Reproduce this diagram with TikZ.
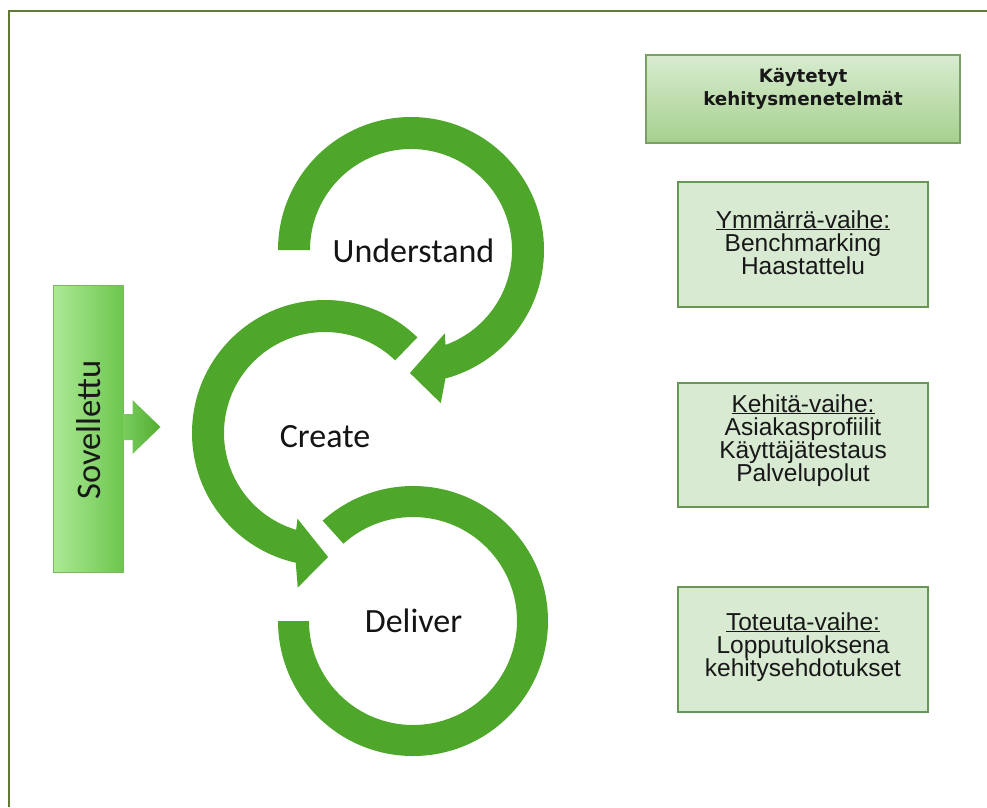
\documentclass[tikz,border=0pt]{standalone}
\usepackage{fontspec}
\setmainfont{Liberation Sans}
\newfontfamily\labelfont{Carlito}
\newfontfamily\headfont{DejaVu Sans}
\begin{document}
\definecolor{arcgreen}{RGB}{78,166,42}
\definecolor{frameolive}{RGB}{96,122,52}
\definecolor{boxfill}{RGB}{217,234,211}
\definecolor{boxline}{RGB}{104,150,84}
\definecolor{headtop}{RGB}{216,236,208}
\definecolor{headbot}{RGB}{166,208,142}
\definecolor{headline}{RGB}{122,160,102}
\definecolor{sovleft}{RGB}{172,234,150}
\definecolor{sovright}{RGB}{108,198,78}
\definecolor{sovline}{RGB}{118,186,92}
\definecolor{inktext}{RGB}{24,24,24}
\begin{tikzpicture}[x=1pt,y=1pt,
  band/.style={fill=arcgreen},
  phase/.style={inner sep=0pt, anchor=base, text=black!92, font=\labelfont\fontsize{34}{34}\selectfont},
  stagebox/.style={draw=boxline, line width=2.4pt, fill=boxfill, minimum width=250pt, inner sep=0pt},
  boxline1/.style={inner sep=0pt, anchor=base, text=inktext, font=\fontsize{24.5}{23}\selectfont},
  headtext/.style={inner sep=0pt, anchor=base, text=inktext, font=\headfont\bfseries\fontsize{18.3}{18}\selectfont},
]
\path[use as bounding box] (0,0) rectangle (987,-807);

% frame lines along the top and left edges
\coordinate (ftl) at (9,-11);
\coordinate (ftr) at (987,-11);
\coordinate (fbl) at (9,-807);
\draw[frameolive, line width=2.4pt] (ftr) -- (ftl) -- (fbl);

% circle centres
\coordinate (cu) at (411,-250);
\coordinate (cc) at (325,-433);
\coordinate (cd) at (413,-621);

% Understand: clockwise arc ending in an arrowhead
\begin{scope}[shift={(cu)}]
  \fill[band] (180:133) arc[start angle=180, end angle=-75, radius=133pt]
    -- (-79:156) -- (-90.5:123) -- (-68:90) -- (-70:101)
    arc[start angle=-70, end angle=180, radius=101pt] -- cycle;
\end{scope}

% Create: counter-clockwise arc ending in an arrowhead
\begin{scope}[shift={(cc)}]
  \fill[band] (46:133) arc[start angle=46, end angle=257.3, radius=133pt]
    -- (260:157) -- (271.4:124) -- (252.2:90) -- (253.4:101)
    arc[start angle=253.4, end angle=46, radius=101pt] -- cycle;
\end{scope}

% Deliver: open ring
\begin{scope}[shift={(cd)}]
  \fill[band] (180:135) arc[start angle=180, end angle=492, radius=135pt]
    -- (492:104) arc[start angle=492, end angle=180, radius=104pt] -- cycle;
\end{scope}

\node[phase] (lu) at (413.5,-262) {Understand};
\node[phase] (lc) at (325,-447) {Create};
\node[phase] (ld) at (413.5,-632) {Deliver};

% Sovellettu bar with its block arrow
\node[draw=sovline, line width=1pt, left color=sovleft, right color=sovright,
      minimum width=70pt, minimum height=287pt, inner sep=0pt] (sov) at (88,-428.5) {};
\node[rotate=90, inner sep=0pt, text=black!90, font=\labelfont\fontsize{34.5}{34}\selectfont]
      (sovtxt) at (89,-430) {Sovellettu};
\begin{scope}[shift={(sov.east)}]
  \shade[left color=sovright!80!sovleft, right color=arcgreen!80!sovright]
    (0,14.5) -- (9,14.5) -- (9,28.5) -- (37,1.5) -- (9,-25.5) -- (9,-11.5) -- (0,-11.5) -- cycle;
\end{scope}

% heading box
\node[draw=headline, line width=1.4pt, top color=headtop, bottom color=headbot,
      minimum width=314pt, minimum height=88pt, inner sep=0pt] (head) at (803,-99) {};
\node[headtext] (h1) at (803,-82) {Käytetyt};
\node[headtext] (h2) at (803,-105) {kehitysmenetelmät};

% phase boxes
\node[stagebox, minimum height=125pt] (b1) at (803,-244.5) {};
\node[boxline1] (b1a) at (803,-228) {\underline{Ymmärrä-vaihe:}};
\node[boxline1] (b1b) at (803,-251) {Benchmarking};
\node[boxline1] (b1c) at (803,-274) {Haastattelu};

\node[stagebox, minimum height=124pt] (b2) at (803,-445) {};
\node[boxline1] (b2a) at (803,-412) {\underline{Kehitä-vaihe:}};
\node[boxline1] (b2b) at (803,-435) {Asiakasprofiilit};
\node[boxline1] (b2c) at (803,-458) {Käyttäjätestaus};
\node[boxline1] (b2d) at (803,-481) {Palvelupolut};

\node[stagebox, minimum height=125pt] (b3) at (803,-649.5) {};
\node[boxline1] (b3a) at (803,-630) {\underline{Toteuta-vaihe:}};
\node[boxline1] (b3b) at (803,-653) {Lopputuloksena};
\node[boxline1] (b3c) at (803,-676) {kehitysehdotukset};
\end{tikzpicture}
\end{document}
